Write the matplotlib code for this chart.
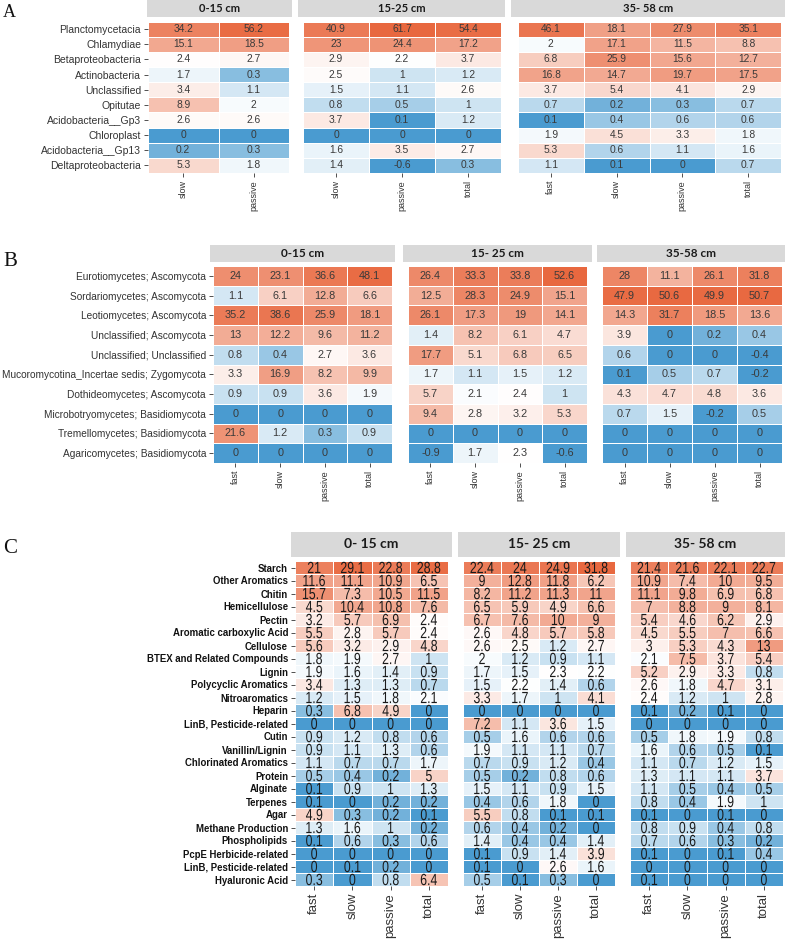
import numpy as np
import matplotlib
matplotlib.use('Agg')
import matplotlib.pyplot as plt
from matplotlib.colors import LinearSegmentedColormap, TwoSlopeNorm
from matplotlib.font_manager import FontProperties
from matplotlib.textpath import TextPath
from matplotlib.patches import PathPatch
from matplotlib.transforms import Affine2D, ScaledTranslation

# ---------------- data ----------------
cols4 = ['fast', 'slow', 'passive', 'total']

a_rows = ['Planctomycetacia', 'Chlamydiae', 'Betaproteobacteria', 'Actinobacteria',
          'Unclassified', 'Opitutae', 'Acidobacteria__Gp3', 'Chloroplast',
          'Acidobacteria__Gp13', 'Deltaproteobacteria']
a_0_15 = [[34.2, 15.1, 2.4, 1.7, 3.4, 8.9, 2.6, 0, 0.2, 5.3],
          [56.2, 18.5, 2.7, 0.3, 1.1, 2, 2.6, 0, 0.3, 1.8]]
a_15_25 = [[40.9, 23, 2.9, 2.5, 1.5, 0.8, 3.7, 0, 1.6, 1.4],
           [61.7, 24.4, 2.2, 1, 1.1, 0.5, 0.1, 0, 3.5, -0.6],
           [54.4, 17.2, 3.7, 1.2, 2.6, 1, 1.2, 0, 2.7, 0.3]]
a_35_58 = [[46.1, 2, 6.8, 16.8, 3.7, 0.7, 0.1, 1.9, 5.3, 1.1],
           [18.1, 17.1, 25.9, 14.7, 5.4, 0.2, 0.4, 4.5, 0.6, 0.1],
           [27.9, 11.5, 15.6, 19.7, 4.1, 0.3, 0.6, 3.3, 1.1, 0],
           [35.1, 8.8, 12.7, 17.5, 2.9, 0.7, 0.6, 1.8, 1.6, 0.7]]

b_rows = ['Eurotiomycetes; Ascomycota', 'Sordariomycetes; Ascomycota',
          'Leotiomycetes; Ascomycota', 'Unclassified; Ascomycota',
          'Unclassified; Unclassified', 'Mucoromycotina_Incertae sedis; Zygomycota',
          'Dothideomycetes; Ascomycota', 'Microbotryomycetes; Basidiomycota',
          'Tremellomycetes; Basidiomycota', 'Agaricomycetes; Basidiomycota']
b_0_15 = [[24, 1.1, 35.2, 13, 0.8, 3.3, 0.9, 0, 21.6, 0],
          [23.1, 6.1, 38.6, 12.2, 0.4, 16.9, 0.9, 0, 1.2, 0],
          [36.6, 12.8, 25.9, 9.6, 2.7, 8.2, 3.6, 0, 0.3, 0],
          [48.1, 6.6, 18.1, 11.2, 3.6, 9.9, 1.9, 0, 0.9, 0]]
b_15_25 = [[26.4, 12.5, 26.1, 1.4, 17.7, 1.7, 5.7, 9.4, 0, -0.9],
           [33.3, 28.3, 17.3, 8.2, 5.1, 1.1, 2.1, 2.8, 0, 1.7],
           [33.8, 24.9, 19, 6.1, 6.8, 1.5, 2.4, 3.2, 0, 2.3],
           [52.6, 15.1, 14.1, 4.7, 6.5, 1.2, 1, 5.3, 0, -0.6]]
b_35_58 = [[28, 47.9, 14.3, 3.9, 0.6, 0.1, 4.3, 0.7, 0, 0],
           [11.1, 50.6, 31.7, 0, 0, 0.5, 4.7, 1.5, 0, 0],
           [26.1, 49.9, 18.5, 0.2, 0, 0.7, 4.8, -0.2, 0, 0],
           [31.8, 50.7, 13.6, 0.4, -0.4, -0.2, 3.6, 0.5, 0, 0]]

c_rows = ['Starch', 'Other Aromatics', 'Chitin', 'Hemicellulose', 'Pectin',
          'Aromatic carboxylic Acid', 'Cellulose', 'BTEX and Related Compounds',
          'Lignin', 'Polycyclic Aromatics', 'Nitroaromatics', 'Heparin',
          'LinB, Pesticide-related', 'Cutin', 'Vanillin/Lignin', 'Chlorinated Aromatics',
          'Protein', 'Alginate', 'Terpenes', 'Agar', 'Methane Production',
          'Phospholipids', 'PcpE Herbicide-related', 'LinB, Pesticide-related',
          'Hyaluronic Acid']
c_0_15 = [[21, 11.6, 15.7, 4.5, 3.2, 5.5, 5.6, 1.8, 1.9, 3.4, 1.2, 0.3, 0, 0.9, 0.9, 1.1, 0.5, 0.1, 0.1, 4.9, 1.3, 0.1, 0, 0, 0.3],
          [29.1, 11.1, 7.3, 10.4, 5.7, 2.8, 3.2, 1.9, 1.6, 1.3, 1.5, 6.8, 0, 1.2, 1.1, 0.7, 0.4, 0.9, 0, 0.3, 1.6, 0.6, 0, 0.1, 0],
          [22.8, 10.9, 10.5, 10.8, 6.9, 5.7, 2.9, 2.7, 1.4, 1.3, 1.8, 4.9, 0, 0.8, 1.3, 0.7, 0.2, 1, 0.2, 0.2, 1, 0.3, 0, 0.2, 0.8],
          [28.8, 6.5, 11.5, 7.6, 2.4, 2.4, 4.8, 1, 0.9, 0.7, 2.1, 0, 0, 0.6, 0.6, 1.7, 5, 1.3, 0.2, 0.1, 0.2, 0.6, 0, 0, 6.4]]
c_15_25 = [[22.4, 9, 8.2, 6.5, 6.7, 2.6, 2.6, 2, 1.7, 1.5, 3.3, 0, 7.2, 0.5, 1.9, 0.7, 0.5, 1.5, 0.4, 5.5, 0.6, 1.4, 0.1, 0.1, 0.5],
           [24, 12.8, 11.2, 5.9, 7.6, 4.8, 2.5, 1.2, 1.5, 2.2, 1.7, 0, 1.1, 1.6, 1.1, 0.9, 0.2, 1.1, 0.6, 0.8, 0.4, 0.4, 0.9, 0, 0.1],
           [24.9, 11.8, 11.3, 4.9, 10, 5.7, 1.2, 0.9, 2.3, 1.4, 1, 0, 3.6, 0.6, 1.1, 1.2, 0.8, 0.9, 1.8, 0.1, 0.2, 0.4, 1.4, 2.6, 0.3],
           [31.8, 6.2, 11, 6.6, 9, 5.8, 2.7, 1.1, 2.2, 0.6, 4.1, 0, 1.5, 0.6, 0.7, 0.4, 0.6, 1.5, 0, 0.1, 0, 1.4, 3.9, 1.6, 0]]
c_35_58 = [[21.4, 10.9, 11.1, 7, 5.4, 4.5, 3, 2.1, 5.2, 2.6, 2.4, 0.1, 0, 0.5, 1.6, 1.1, 1.3, 1.1, 0.8, 0.1, 0.8, 0.7, 0.1, 0, 0.1],
           [21.6, 7.4, 9.8, 8.8, 4.6, 5.5, 5.3, 7.5, 2.9, 1.8, 1.2, 0.2, 0, 1.8, 0.6, 0.7, 1.1, 0.5, 0.4, 0, 0.9, 0.6, 0, 0, 0],
           [22.1, 10, 6.9, 9, 6.2, 7, 4.3, 3.7, 3.3, 4.7, 1, 0.1, 0, 1.9, 0.5, 1.2, 1.1, 0.4, 1.9, 0.1, 0.4, 0.3, 0.1, 0, 0],
           [22.7, 9.5, 6.8, 8.1, 2.9, 6.6, 13, 5.4, 0.8, 3.1, 2.8, 0, 0, 0.8, 0.1, 1.5, 3.7, 0.5, 1, 0, 0.8, 0.2, 0.4, 0, 0]]

# ---------------- style ----------------
W, H = 788, 940
plt.rcParams['font.family'] = ['Liberation Sans', 'DejaVu Sans']

cmap = LinearSegmentedColormap.from_list('bwr_soft', ['#4a9bd0', '#ffffff', '#e8683f'])
num_prop = FontProperties(family='Liberation Sans')
digit_box = TextPath((0, 0), '0', size=1, prop=num_prop).get_extents()

fig = plt.figure(figsize=(W / 100, H / 100), dpi=100)


def rect(x0, y0, x1, y1):
    return [x0 / W, 1 - y1 / H, (x1 - x0) / W, (y1 - y0) / H]


def squeezed_label(ax, x, y, s, height_px, xscale, color):
    # tall, narrow numbers like the original panel C
    tp = TextPath((0, 0), s, size=1, prop=num_prop)
    ext = tp.get_extents()
    k = height_px / digit_box.height
    trans = (Affine2D().translate(-(ext.x0 + ext.x1) / 2, -(digit_box.y0 + digit_box.y1) / 2)
             .scale(k * xscale, k) + ScaledTranslation(x, y, ax.transData))
    ax.add_patch(PathPatch(tp, transform=trans, facecolor=color, edgecolor='none', lw=0))


def heat_facet(cells, strip, label, columns, col_names, rows, vmax, st):
    vals = np.array(columns, dtype=float).T
    nr, nc = vals.shape
    ax = fig.add_axes(rect(*cells))
    norm = TwoSlopeNorm(vmin=-1, vcenter=np.log10(2.3), vmax=np.log10(vmax))
    ax.pcolormesh(np.arange(nc + 1) - 0.5, np.arange(nr + 1) - 0.5,
                  np.log10(np.clip(vals, 0.1, None)), cmap=cmap, norm=norm,
                  edgecolors='white', linewidth=0.7)
    for i in range(nr):
        for j in range(nc):
            if st.get('squeeze'):
                squeezed_label(ax, j, i, f'{vals[i, j]:g}', st['squeeze'], 0.76, st['num_color'])
            else:
                ax.text(j, i, f'{vals[i, j]:g}', ha='center', va='center',
                        fontsize=st['num_size'], color=st['num_color'])
    ax.set_xlim(-0.5, nc - 0.5)
    ax.set_ylim(nr - 0.5, -0.5)
    ax.set_xticks(range(nc))
    ax.set_xticklabels(col_names, rotation=90, fontsize=st['x_size'], color='#333333')
    if rows is not None:
        ax.set_yticks(range(nr))
        ax.set_yticklabels(rows, fontsize=st['y_size'], color=st['y_color'],
                           fontweight=st['y_weight'])
    else:
        ax.set_yticks([])
    for s in ax.spines.values():
        s.set_visible(False)
    ax.tick_params(length=3, width=0.6, color='#333333', pad=2)

    sx = fig.add_axes(rect(*strip))
    sx.set_facecolor('#d9d9d9')
    sx.set_xticks([])
    sx.set_yticks([])
    for s in sx.spines.values():
        s.set_visible(False)
    sx.text(0.5, 0.5, label, ha='center', va='center', family='Lato',
            fontweight='bold', fontsize=st['strip_size'], color='#1a1a1a',
            transform=sx.transAxes)


style_a = dict(num_size=7.4, num_color='#3a3a3a',
               x_size=6.5, y_size=7.5, y_color='#333333', y_weight='normal', strip_size=8)
style_b = dict(num_size=7.8, num_color='#3a3a3a',
               x_size=6.5, y_size=7.3, y_color='#333333', y_weight='normal', strip_size=8.5)
style_c = dict(squeeze=11.5, num_color='#1a1a1a',
               x_size=9.5, y_size=6.9, y_color='#111111', y_weight='bold', strip_size=10)

# panel A
heat_facet((148, 21.5, 289, 173), (147, 0, 292, 17), '0-15 cm', a_0_15, ['slow', 'passive'], a_rows, 61.7, style_a)
heat_facet((303, 21.5, 501, 173), (298, 0, 505, 17), '15-25 cm', a_15_25, ['slow', 'passive', 'total'], None, 61.7, style_a)
heat_facet((518, 21.5, 781, 173), (511, 0, 785, 17), '35- 58 cm', a_35_58, cols4, None, 61.7, style_a)

# panel B
heat_facet((213, 266, 392, 463), (210, 245, 395, 262), '0-15 cm', b_0_15, cols4, b_rows, 52.6, style_b)
heat_facet((408, 266, 587, 463), (403, 245, 592, 262), '15- 25 cm', b_15_25, cols4, None, 52.6, style_b)
heat_facet((602, 266, 782, 463), (597, 245, 785, 262), '35-58 cm', b_35_58, cols4, None, 52.6, style_b)

# panel C
heat_facet((295, 561, 448, 886), (291, 532, 452, 557), '0- 15 cm', c_0_15, cols4, c_rows, 31.8, style_c)
heat_facet((463, 561, 615, 886), (458, 532, 620, 557), '15- 25 cm', c_15_25, cols4, None, 31.8, style_c)
heat_facet((630, 561, 783, 886), (626, 532, 785, 557), '35- 58 cm', c_35_58, cols4, None, 31.8, style_c)

# panel letters
for letter, y, size in [('A', 4, 13), ('B', 252, 15), ('C', 539, 15)]:
    fig.text(3 / W, 1 - y / H, letter, ha='left', va='top', family='Liberation Serif',
             fontsize=size, color='#111111')

fig.savefig('out.png', dpi=100)
